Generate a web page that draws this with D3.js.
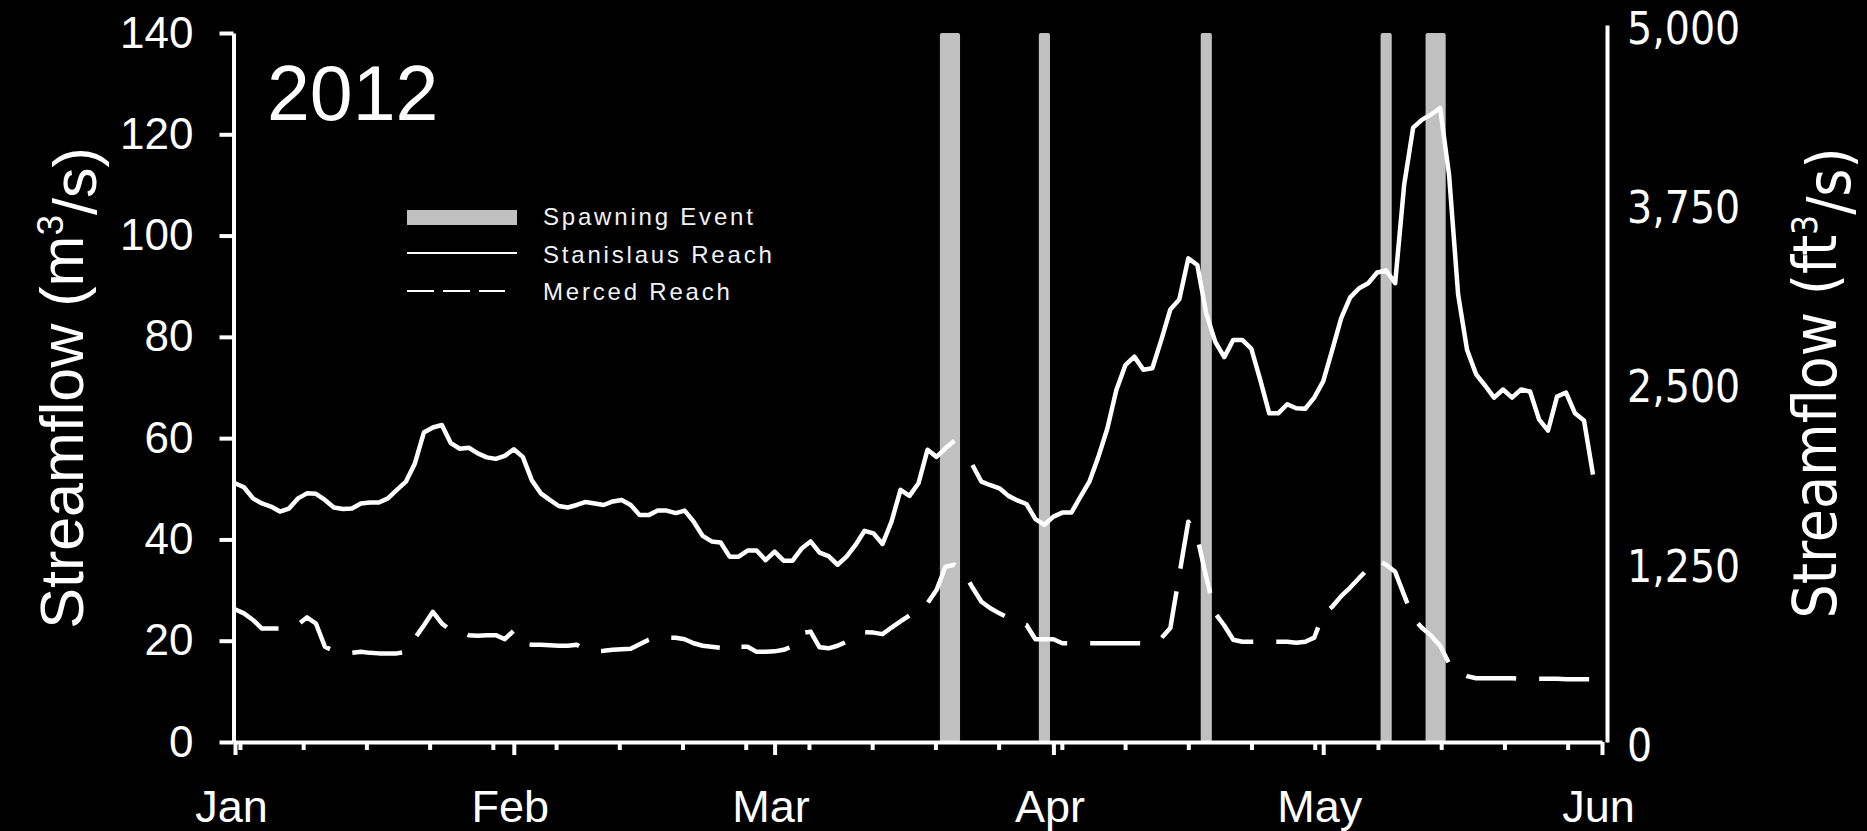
<!DOCTYPE html>
<html><head><meta charset="utf-8">
<script src="https://cdn.jsdelivr.net/npm/d3@7"></script>
<style>
html,body{margin:0;padding:0;background:#000;}
svg{display:block;}
</style></head><body>
<svg id="chart" width="1867" height="831"></svg>
<script>
// ---------------- data ----------------
const startDay = [2012, 0, 1];
const monthTickDates = [[2012,0,1],[2012,1,1],[2012,2,1],[2012,3,1],[2012,4,1],[2012,5,1]];
const monthLabels = ["Jan","Feb","Mar","Apr","May","Jun"];
const leftTicks = [0,20,40,60,80,100,120,140];
const rightTicks = [0,1250,2500,3750,5000];
const spawningDates = [[2012,2,20],[2012,2,21],[2012,2,31],[2012,3,18],[2012,4,8],[2012,4,13],[2012,4,14]];
const yearLabel = "2012";
const legendLabels = ["Spawning Event","Stanislaus Reach","Merced Reach"];
const CFS_PER_CMS = 35.3147;

// daily streamflow (m3/s), Jan 1 .. May 31 2012
const stanislaus = [
51.1,50.3,48.1,47.1,46.5,45.5,46.1,48.1,49.1,49.0,
47.8,46.3,46.0,46.1,47.1,47.3,47.3,48.1,49.8,51.4,
55.0,61.1,62.1,62.6,59.0,57.9,58.1,57.0,56.2,55.9,
56.5,57.8,56.3,51.7,49.1,47.8,46.6,46.3,46.8,47.4,
47.1,46.8,47.5,47.8,46.8,44.8,44.8,45.7,45.7,45.2,
45.7,43.5,40.7,39.6,39.4,36.6,36.6,37.8,37.8,35.9,
37.6,35.8,35.8,38.2,39.6,37.4,36.7,35.0,36.6,38.9,
41.7,41.2,39.1,43.5,49.8,48.6,51.1,57.7,56.3,58.0,
59.5,null,54.7,51.4,50.7,50.1,48.6,47.7,47.0,44.0,
42.9,44.5,45.3,45.3,48.4,51.4,56.3,61.9,69.5,74.4,
76.1,73.5,73.8,79.4,85.4,87.4,95.5,94.2,84.6,79.0,
76.0,79.4,79.4,77.7,71.5,64.9,64.9,66.7,65.9,65.8,
68.0,71.2,77.4,83.7,87.8,89.6,90.6,92.7,93.1,90.6,
110.0,121.3,122.9,123.9,125.2,111.9,88.4,77.4,72.6,70.4,
68.0,69.6,68.0,69.6,69.2,63.7,61.5,68.2,69.0,64.9,
63.5,52.8
];
const merced = [
26.2,25.4,24.1,22.4,22.4,22.4,22.5,23.2,24.6,23.4,
18.8,18.0,17.5,17.6,17.8,17.6,17.5,17.5,17.5,17.8,
20.5,23.0,25.7,23.4,22.0,22.0,21.1,21.0,21.1,21.1,
20.3,22.0,19.5,19.2,19.2,19.1,19.0,19.0,19.2,18.3,
17.9,18.0,18.2,18.3,18.4,19.3,20.2,20.8,20.6,20.6,
20.3,19.5,19.0,18.8,18.6,18.0,18.8,18.8,17.8,17.8,
17.9,18.2,18.9,21.5,21.8,18.7,18.5,19.0,19.8,21.1,
21.7,21.6,21.3,22.6,23.8,25.0,26.0,27.4,30.0,34.6,
35.0,33.6,30.5,27.7,26.4,25.4,24.5,23.6,23.1,20.3,
20.3,20.3,19.5,19.5,19.5,19.5,19.5,19.5,19.5,19.5,
19.5,19.5,19.6,20.5,22.5,33.0,43.5,40.5,32.5,25.4,
23.0,20.2,19.8,19.8,19.8,19.8,19.8,19.8,19.6,19.8,
20.6,25.3,26.7,28.8,30.5,32.4,34.2,35.9,35.0,33.6,
29.0,24.5,22.5,21.0,19.0,15.5,13.8,13.0,12.6,12.6,
12.6,12.6,12.6,12.5,12.5,12.5,12.5,12.5,12.4,12.4,
12.4,12.4
];

// ---------------- drawing ----------------
const utc = a => new Date(Date.UTC(a[0], a[1], a[2]));
const day0 = utc(startDay);
const dayDate = i => d3.utcDay.offset(day0, i);

const svg = d3.select("#chart");
svg.append("rect").attr("width",1867).attr("height",831).attr("fill","#000");

const x = d3.scaleUtc().domain([utc(monthTickDates[0]), utc(monthTickDates[5])]).range([235, 1602]);
const y = d3.scaleLinear().domain([0,140]).range([742, 33]);
const yR = d3.scaleLinear().domain([0,5000]).range([y(0), y(5000/CFS_PER_CMS)]);
const dayW = x(dayDate(1)) - x(dayDate(0));

const LEFT_FONT = "'Liberation Sans', Arial, sans-serif";
const RIGHT_FONT = "'DejaVu Sans Condensed', 'DejaVu Sans', sans-serif";

// spawning bars
svg.append("g").selectAll("rect").data(spawningDates).join("rect")
  .attr("x", d => x(utc(d)) - dayW*0.62)
  .attr("width", dayW*1.24)
  .attr("y", y(140))
  .attr("height", y(0) - y(140))
  .attr("rx", 2)
  .attr("fill", "#c0c0c0");

// series
const stanData = stanislaus.map((v,i)=>({date:dayDate(i), v}));
const merData = merced.map((v,i)=>({date:dayDate(i), v}));
const line = d3.line().defined(d => d.v != null).x(d => x(d.date)).y(d => y(d.v));

svg.append("path").datum(merData).attr("d", line)
  .attr("fill","none").attr("stroke","#fff").attr("stroke-width",4.5)
  .attr("stroke-dasharray","50 23").attr("stroke-linejoin","round");
svg.append("path").datum(stanData).attr("d", line)
  .attr("fill","none").attr("stroke","#fff").attr("stroke-width",4.5)
  .attr("stroke-linejoin","round");

// left axis
const gL = svg.append("g").attr("transform","translate(233.5,0)")
  .call(d3.axisLeft(y).tickValues(leftTicks).tickSize(14).tickSizeOuter(0).tickPadding(26));
gL.select(".domain").attr("stroke","#fff").attr("stroke-width",4);
gL.selectAll(".tick line").attr("stroke","#fff").attr("stroke-width",4);
gL.selectAll(".tick text").attr("fill","#fff").style("font-family",LEFT_FONT).style("font-size","44px");

// bottom axis: minor weekly ticks
const minorDates = d3.range(22).map(k => new Date(day0.getTime() + (0.55 + 7.03*k)*864e5));
const gMin = svg.append("g").attr("transform","translate(0,742)")
  .call(d3.axisBottom(x).tickValues(minorDates).tickSize(8).tickFormat(""));
gMin.select(".domain").remove();
gMin.selectAll(".tick line").attr("stroke","#fff").attr("stroke-width",4);

// bottom axis: month ticks
const gB = svg.append("g").attr("transform","translate(0,742)")
  .call(d3.axisBottom(x).tickValues(monthTickDates.map(utc)).tickSize(13).tickSizeOuter(0).tickPadding(35)
    .tickFormat((d,i) => monthLabels[i]));
gB.select(".domain").attr("stroke","#fff").attr("stroke-width",4);
gB.selectAll(".tick line").attr("stroke","#fff").attr("stroke-width",4);
gB.selectAll(".tick text").attr("fill","#fff").attr("dx","-4").style("font-family",LEFT_FONT).style("font-size","45px");

// right axis
const gR = svg.append("g").attr("transform","translate(1607,0)")
  .call(d3.axisRight(yR).tickValues(rightTicks).tickSize(0).tickSizeOuter(0).tickPadding(20).tickFormat(d3.format(",")));
gR.select(".domain").attr("stroke","#fff").attr("stroke-width",4);
gR.selectAll(".tick text").attr("fill","#fff").attr("dy","0.42em").style("font-family",RIGHT_FONT).style("font-size","44px");

// axis titles
const tL = svg.append("text").attr("transform","translate(83,388) rotate(-90)")
  .attr("text-anchor","middle").attr("fill","#fff")
  .style("font-family",LEFT_FONT).style("font-size","61px");
tL.append("tspan").text("Streamflow (m");
tL.append("tspan").text("3").attr("dy","-0.55em").style("font-size","37px");
tL.append("tspan").text("/s)").attr("dy","0.55em");

const tR = svg.append("text").attr("transform","translate(1836,383) rotate(-90)")
  .attr("text-anchor","middle").attr("fill","#fff")
  .style("font-family",RIGHT_FONT).style("font-size","60px");
tR.append("tspan").text("Streamflow (ft");
tR.append("tspan").text("3").attr("dy","-0.55em").style("font-size","35px");
tR.append("tspan").text("/s)").attr("dy","0.55em");

// year label
svg.append("text").attr("x",267).attr("y",120).attr("fill","#fff")
  .style("font-family",LEFT_FONT).style("font-size","77px").text(yearLabel);

// legend
const lg = svg.append("g");
lg.append("rect").attr("x",407).attr("y",210).attr("width",110).attr("height",15).attr("fill","#c0c0c0");
lg.append("line").attr("x1",407).attr("x2",517).attr("y1",253).attr("y2",253).attr("stroke","#fff").attr("stroke-width",2);
lg.append("line").attr("x1",407).attr("x2",505).attr("y1",291).attr("y2",291).attr("stroke","#fff").attr("stroke-width",2)
  .attr("stroke-dasharray","27 9");
lg.selectAll("text").data(legendLabels).join("text")
  .attr("x",543).attr("y",(d,i)=>225 + i*37.5)
  .attr("fill","#f2f2f2").style("font-family",LEFT_FONT).style("font-size","24px").style("letter-spacing","2.8px")
  .text(d=>d);
</script>
</body></html>
